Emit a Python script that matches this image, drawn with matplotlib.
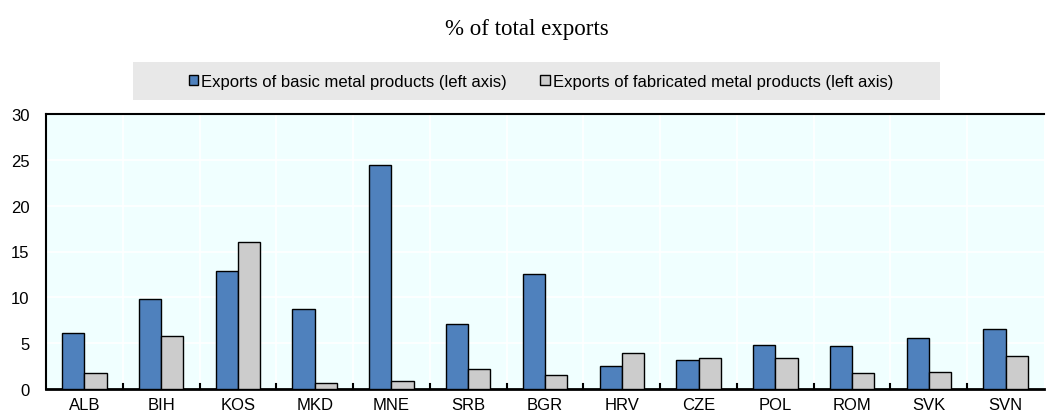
import matplotlib
matplotlib.use("Agg")
import matplotlib.pyplot as plt
from matplotlib.patches import Rectangle, Patch
from matplotlib import font_manager
import numpy as np

categories = ["ALB", "BIH", "KOS", "MKD", "MNE", "SRB", "BGR", "HRV", "CZE", "POL", "ROM", "SVK", "SVN"]
basic = [6.1, 9.8, 12.9, 8.7, 24.4, 7.1, 12.6, 2.5, 3.2, 4.8, 4.7, 5.6, 6.5]
fabricated = [1.7, 5.8, 16.0, 0.7, 0.9, 2.2, 1.5, 3.9, 3.4, 3.4, 1.8, 1.9, 3.6]
series_labels = ["Exports of basic metal products (left axis)",
                 "Exports of fabricated metal products (left axis)"]
yticks = [0, 5, 10, 15, 20, 25, 30]
title = "% of total exports"

names = {f.name for f in font_manager.fontManager.ttflist}
narrow = "Liberation Sans Narrow" in names
sans = ["Liberation Sans Narrow", "Liberation Sans", "DejaVu Sans"] if narrow else ["Liberation Sans", "DejaVu Sans"]
fs = 14 if narrow else 12
plt.rcParams['font.family'] = sans

fig = plt.figure(figsize=(10.46, 4.14), dpi=100)
ax = fig.add_axes([46/1046, 1-390/414, 998/1046, 275/414])
ax.set_facecolor("#F0FFFF")

x = np.arange(len(categories))
w = 0.29
blue = "#4F81BD"
gray = "#CCCCCC"
ax.bar(x - w/2, basic, w, color=blue, edgecolor="black", linewidth=1.0, zorder=3)
ax.bar(x + w/2, fabricated, w, color=gray, edgecolor="black", linewidth=1.0, zorder=3)

ax.set_xlim(-0.5, len(categories) - 0.5)
ax.set_ylim(0, 30)
ax.set_yticks(yticks)
ax.set_yticklabels([str(t) for t in yticks], fontsize=fs)
ax.set_xticks(x)
ax.set_xticklabels(categories, fontsize=fs)
ax.tick_params(axis='x', length=0, pad=6)
ax.tick_params(axis='y', length=0, pad=12)

bounds = np.arange(0.5, len(categories) - 0.5, 1)
for b in bounds:
    ax.axvline(b, color="white", linewidth=1.2, zorder=1)
    ax.plot([b, b], [0, 0.55], color="black", linewidth=1.5, zorder=4, clip_on=False)
for t in yticks[1:-1]:
    ax.axhline(t, color="white", linewidth=1.2, zorder=1)

for side in ["left", "right", "top"]:
    ax.spines[side].set_visible(False)
ax.spines["bottom"].set_linewidth(2.0)
ax.plot([0, 1], [1, 1], transform=ax.transAxes, color="black", linewidth=1.5, clip_on=False, zorder=5)
ax.plot([0, 0], [0, 1], transform=ax.transAxes, color="black", linewidth=1.5, clip_on=False, zorder=5)

fig.patches.append(Rectangle((133/1046, 1-101/414), (940-133)/1046, 38/414,
                             transform=fig.transFigure, facecolor="#E8E8E8", edgecolor="none", zorder=0))
handles = [Patch(facecolor=blue, edgecolor="black", linewidth=1.0),
           Patch(facecolor=gray, edgecolor="black", linewidth=1.0)]
fig.legend(handles, series_labels, loc="center", bbox_to_anchor=(541/1046, 1-82/414),
           ncol=2, frameon=False, fontsize=fs, handlelength=0.55, handleheight=0.55,
           handletextpad=0.2, columnspacing=2.0, borderpad=0)

fig.text(527/1046, 1-29/414, title, ha="center", va="center", fontsize=16.5,
         family=["Liberation Serif", "DejaVu Serif"])

fig.savefig("out.png", dpi=100)
